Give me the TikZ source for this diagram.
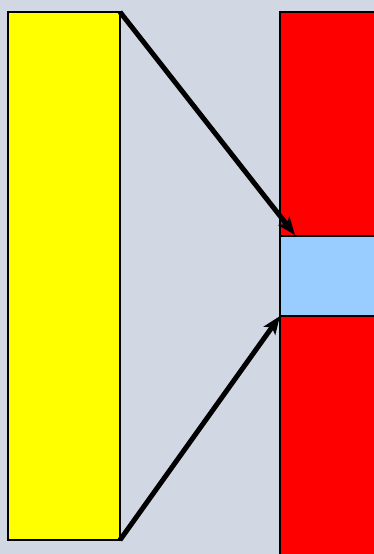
\documentclass[tikz,border=0pt]{standalone}
\usepackage{tikz}
\usetikzlibrary{arrows.meta,positioning,calc}
\definecolor{PanelBack}{HTML}{D2D7E4}
\definecolor{SourceYellow}{HTML}{FFFF00}
\definecolor{TargetRed}{HTML}{FF0000}
\definecolor{ZoomBlue}{HTML}{99CCFF}

\begin{document}
\begin{tikzpicture}[x=1pt, y=-1pt,
    block/.style={draw=black, line width=1.2pt, inner sep=0pt, outer sep=0pt},
    zoomarrow/.style={-{Stealth[length=18pt, width=14pt, inset=4pt]}, line width=5pt, black}]
        % panel background, also fixes the bounding box
        \clip (0,0) rectangle (374,554);
        \fill[PanelBack] (0,0) rectangle (374,554);
        % whole signal on the left
        \node[block, fill=SourceYellow, minimum width=112pt, minimum height=528pt]
          (whole) at (64,276) {};
        % detail column on the right, running off the panel
        \node[block, fill=TargetRed, minimum width=110pt, minimum height=560pt]
          (column) at (335,292) {};
        % zoomed band inside the column
        \node[block, fill=ZoomBlue, minimum width=110pt, minimum height=80pt]
          (band) at (335,276) {};
        \coordinate (bandtop) at ($(band.north west)+(15,-1)$);
        % zoom lines from the corners of the whole signal
        \draw[zoomarrow] (whole.north east) -- (bandtop);
        \draw[zoomarrow] (whole.south east) -- (band.south west);
      \end{tikzpicture}
\end{document}
